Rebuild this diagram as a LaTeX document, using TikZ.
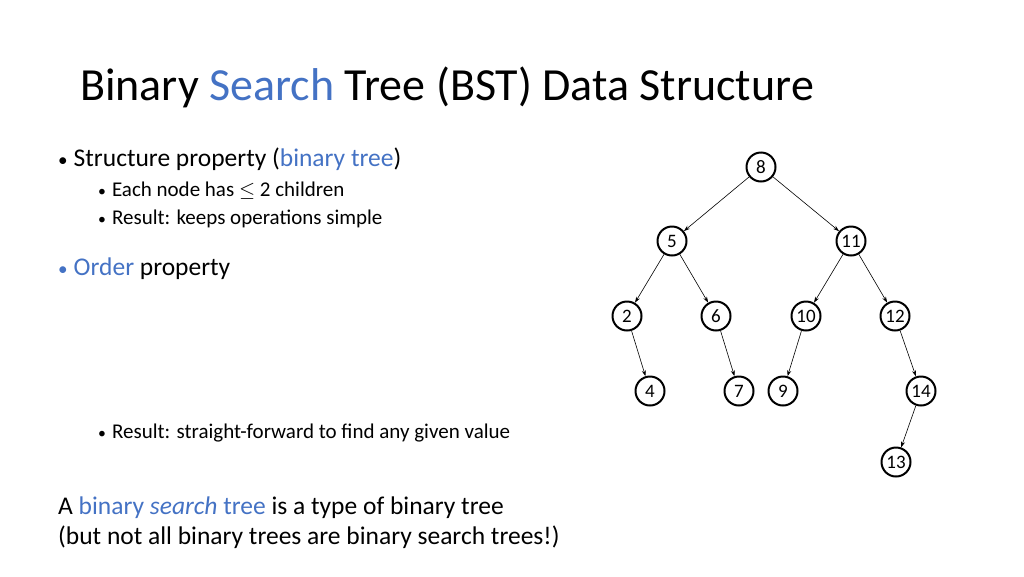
\documentclass[tikz,border=0pt]{standalone}
\usepackage{fontspec}
\setmainfont{Carlito}
\usetikzlibrary{arrows.meta}
\definecolor{acc}{HTML}{4472C4}
\newcommand{\bul}{{\scalebox{0.75}{•}}\hspace{6pt}}
\begin{document}
\begin{tikzpicture}[x=1pt,y=-1pt,
  tn/.style={circle,draw,line width=2pt,minimum size=29pt,inner sep=0pt,font=\fontsize{19}{19}\selectfont},
  ed/.style={-{Stealth[length=6pt,width=4pt]},line width=0.6pt},
  txt/.style={anchor=base west,inner sep=0pt}]
\useasboundingbox (0,0) rectangle (1024,576);
\node[txt,font=\fontsize{46}{46}\selectfont] (title) at (80,100) {Binary \textcolor{acc}{Search} Tree (BST) Data Structure};
\node[txt,font=\fontsize{25.5}{25.5}\selectfont] (b1) at (58,166) {\bul Structure property (\textcolor{acc}{binary tree})};
\node[txt,font=\fontsize{21}{21}\selectfont] (s1) at (98,196) {\bul Each node has $\leq$ 2 children};
\node[txt,font=\fontsize{21}{21}\selectfont] (s2) at (98,224) {\bul Result: keeps operations simple};
\node[txt,font=\fontsize{25.5}{25.5}\selectfont] (b2) at (58,275) {\textcolor{acc}{\bul Order} property};
\node[txt,font=\fontsize{21}{21}\selectfont] (s3) at (98,438) {\bul Result: straight-forward to find any given value};
\node[txt,font=\fontsize{25.5}{25.5}\selectfont] (p1) at (58,514) {A \textcolor{acc}{binary \textit{search} tree} is a type of binary tree};
\node[txt,font=\fontsize{25.5}{25.5}\selectfont] (p2) at (58,544) {(but not all binary trees are binary search trees!)};
\node[tn] (n8) at (761,167) {8};
\node[tn] (n5) at (672,241) {5};
\node[tn] (n11) at (851,241) {11};
\node[tn] (n2) at (627,316) {2};
\node[tn] (n6) at (716,316) {6};
\node[tn] (n10) at (806,316) {10};
\node[tn] (n12) at (895,316) {12};
\node[tn] (n4) at (650,391) {4};
\node[tn] (n7) at (739,391) {7};
\node[tn] (n9) at (783,391) {9};
\node[tn] (n14) at (921,391) {14};
\node[tn] (n13) at (896,462) {13};
\foreach \a/\b in {n8/n5,n8/n11,n5/n2,n5/n6,n11/n10,n11/n12,n2/n4,n6/n7,n10/n9,n12/n14,n14/n13}
  \draw[ed] (\a) -- (\b);
\end{tikzpicture}
\end{document}
